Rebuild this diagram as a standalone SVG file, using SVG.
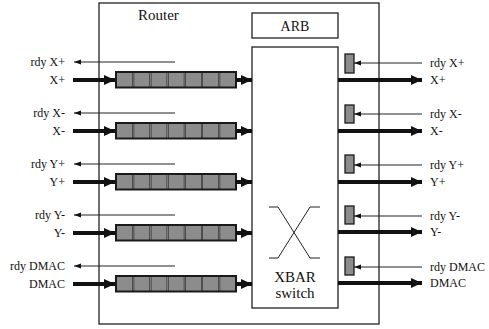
<svg xmlns="http://www.w3.org/2000/svg" width="489" height="329" viewBox="0 0 489 329">
<defs>
<style>
.le{text-anchor:end}
.box{fill:#fff;stroke:#222;stroke-width:1.3}
.thin{stroke:#222;stroke-width:1;fill:none}
.thick{stroke:#111;stroke-width:4;fill:none}
.cell{fill:#8c8c8c;stroke:none}
.q{fill:#1a1a1a}
.sep{stroke:#cfcfcf;stroke-width:0.6}
.rb{fill:#8c8c8c;stroke:#1a1a1a;stroke-width:1.3}
</style>
<marker id="big" markerUnits="userSpaceOnUse" markerWidth="12" markerHeight="12" viewBox="0 0 12 12" refX="11" refY="6" orient="auto">
<path d="M0,1 L11,6 L0,11 Z" fill="#111"/>
</marker>
<marker id="small" markerUnits="userSpaceOnUse" markerWidth="8" markerHeight="6" viewBox="0 0 8 6" refX="7" refY="3" orient="auto">
<path d="M0,0.5 L7,3 L0,5.5 Z" fill="#111"/>
</marker>
<g id="queue">
<rect class="q" x="0" y="0" width="122" height="17.5"/>
<rect class="cell" x="2" y="2" width="15.2" height="13.5"/>
<rect class="cell" x="19.2" y="2" width="15.2" height="13.5"/>
<rect class="cell" x="36.4" y="2" width="15.2" height="13.5"/>
<rect class="cell" x="53.6" y="2" width="15.2" height="13.5"/>
<rect class="cell" x="70.8" y="2" width="15.2" height="13.5"/>
<rect class="cell" x="88" y="2" width="15.2" height="13.5"/>
<rect class="cell" x="105.2" y="2" width="14.8" height="13.5"/>
<line class="sep" x1="18.2" y1="2" x2="18.2" y2="15.5"/>
<line class="sep" x1="35.4" y1="2" x2="35.4" y2="15.5"/>
<line class="sep" x1="52.6" y1="2" x2="52.6" y2="15.5"/>
<line class="sep" x1="69.8" y1="2" x2="69.8" y2="15.5"/>
<line class="sep" x1="87" y1="2" x2="87" y2="15.5"/>
<line class="sep" x1="104.2" y1="2" x2="104.2" y2="15.5"/>
</g>
</defs>

<g id="router">
<rect class="box" x="99" y="3" width="280" height="321"/>
<text x="138" y="20" font-family="Liberation Serif, serif" font-size="15" fill="#111">Router</text>
</g>

<g id="arb">
<rect class="box" x="252" y="13" width="86" height="25"/>
<text x="295" y="31" font-family="Liberation Serif, serif" font-size="14" fill="#111" text-anchor="middle">ARB</text>
</g>

<g id="xbar">
<rect class="box" x="252" y="47" width="86" height="261"/>
<path class="thin" d="M269,207 H278 L310,258 H320 M269,258 H278 L310,207 H320"/>
<text x="295" y="282" font-family="Liberation Serif, serif" font-size="15" fill="#111" text-anchor="middle">XBAR</text>
<text x="295" y="298" font-family="Liberation Serif, serif" font-size="15" fill="#111" text-anchor="middle">switch</text>
</g>

<g id="input-queues">
<use href="#queue" x="115" y="71"/>
<use href="#queue" x="115" y="122"/>
<use href="#queue" x="115" y="173"/>
<use href="#queue" x="115" y="224"/>
<use href="#queue" x="115" y="275"/>
</g>

<g id="output-buffers">
<rect class="rb" x="345" y="54" width="9" height="19"/>
<rect class="rb" x="345" y="105" width="9" height="18"/>
<rect class="rb" x="345" y="155" width="9" height="18"/>
<rect class="rb" x="345" y="206" width="9" height="18"/>
<rect class="rb" x="345" y="257" width="9" height="18"/>
</g>

<g id="connectors">
<line class="thick" x1="73" y1="80" x2="115" y2="80" marker-end="url(#big)"/>
<line class="thick" x1="73" y1="131" x2="115" y2="131" marker-end="url(#big)"/>
<line class="thick" x1="73" y1="182" x2="115" y2="182" marker-end="url(#big)"/>
<line class="thick" x1="73" y1="233" x2="115" y2="233" marker-end="url(#big)"/>
<line class="thick" x1="73" y1="284" x2="115" y2="284" marker-end="url(#big)"/>
<line class="thick" x1="236" y1="80" x2="252" y2="80" marker-end="url(#big)"/>
<line class="thick" x1="236" y1="131" x2="252" y2="131" marker-end="url(#big)"/>
<line class="thick" x1="236" y1="182" x2="252" y2="182" marker-end="url(#big)"/>
<line class="thick" x1="236" y1="233" x2="252" y2="233" marker-end="url(#big)"/>
<line class="thick" x1="236" y1="284" x2="252" y2="284" marker-end="url(#big)"/>
<line class="thin" x1="175" y1="62" x2="74" y2="62" marker-end="url(#small)"/>
<line class="thin" x1="175" y1="113" x2="74" y2="113" marker-end="url(#small)"/>
<line class="thin" x1="175" y1="164" x2="74" y2="164" marker-end="url(#small)"/>
<line class="thin" x1="175" y1="215" x2="74" y2="215" marker-end="url(#small)"/>
<line class="thin" x1="175" y1="266" x2="74" y2="266" marker-end="url(#small)"/>
<line class="thick" x1="338" y1="80" x2="422" y2="80" marker-end="url(#big)"/>
<line class="thick" x1="338" y1="131" x2="422" y2="131" marker-end="url(#big)"/>
<line class="thick" x1="338" y1="182" x2="422" y2="182" marker-end="url(#big)"/>
<line class="thick" x1="338" y1="232" x2="422" y2="232" marker-end="url(#big)"/>
<line class="thick" x1="338" y1="283" x2="422" y2="283" marker-end="url(#big)"/>
<line class="thin" x1="422" y1="63" x2="354" y2="63" marker-end="url(#small)"/>
<line class="thin" x1="422" y1="114" x2="354" y2="114" marker-end="url(#small)"/>
<line class="thin" x1="422" y1="165" x2="354" y2="165" marker-end="url(#small)"/>
<line class="thin" x1="422" y1="216" x2="354" y2="216" marker-end="url(#small)"/>
<line class="thin" x1="422" y1="267" x2="354" y2="267" marker-end="url(#small)"/>
</g>

<g id="labels" font-family="Liberation Serif, serif" font-size="12" fill="#111">
<text class="le" x="65" y="66">rdy X+</text>
<text class="le" x="65" y="84">X+</text>
<text class="le" x="65" y="117">rdy X-</text>
<text class="le" x="65" y="135">X-</text>
<text class="le" x="65" y="168">rdy Y+</text>
<text class="le" x="65" y="186">Y+</text>
<text class="le" x="65" y="219">rdy Y-</text>
<text class="le" x="65" y="237">Y-</text>
<text class="le" x="65" y="270">rdy DMAC</text>
<text class="le" x="65" y="288">DMAC</text>
<text x="430" y="67">rdy X+</text>
<text x="430" y="84">X+</text>
<text x="430" y="118">rdy X-</text>
<text x="430" y="135">X-</text>
<text x="430" y="169">rdy Y+</text>
<text x="430" y="186">Y+</text>
<text x="430" y="220">rdy Y-</text>
<text x="430" y="236">Y-</text>
<text x="430" y="271">rdy DMAC</text>
<text x="430" y="287">DMAC</text>
</g>
</svg>
